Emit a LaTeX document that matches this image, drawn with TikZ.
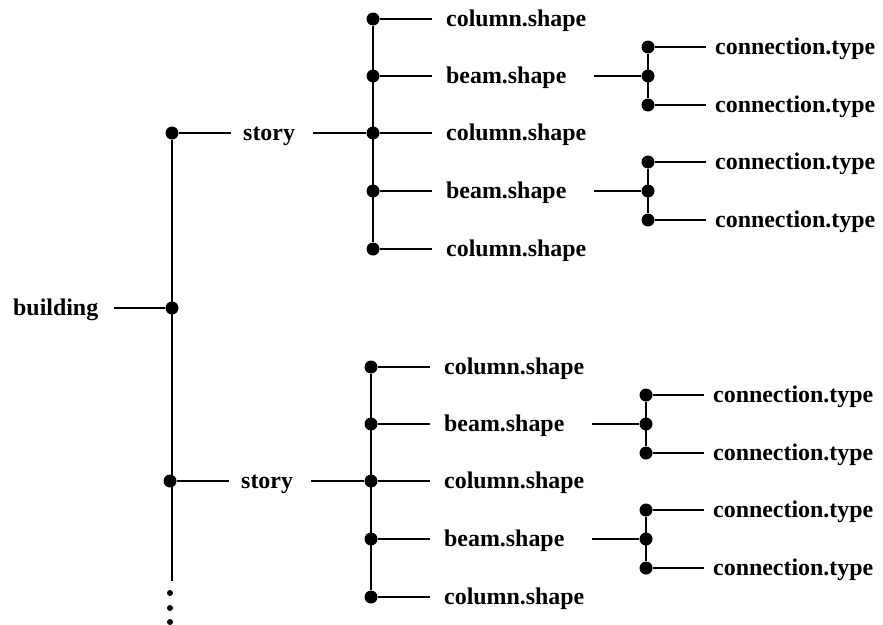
\documentclass[tikz,border=0pt]{standalone}
\usepackage{fontspec}
\setmainfont{Liberation Serif}
\tikzset{
  dot/.style={circle,fill=black,draw=none,inner sep=0pt,minimum size=13pt},
  smalldot/.style={circle,fill=black,draw=none,inner sep=0pt,minimum size=6pt},
  lbl/.style={font=\bfseries\fontsize{23.9}{28}\selectfont,inner sep=0pt,anchor=base west},
  wire/.style={line width=2pt},
}
\begin{document}
\begin{tikzpicture}[x=1pt,y=-1pt]
\useasboundingbox (0,0) rectangle (883,624);

% root of the tree
\node[lbl] (building) at (13,315) {building};
\node[dot] (root) at (172,308) {};
\draw[wire,shorten <=16pt] (building.east |- root) -- (root);

% trunk and the continuation dots
\coordinate (trunkend) at (172,581);
\node[smalldot] (more1) at (170,593) {};
\node[smalldot] (more2) at (170,608) {};
\node[smalldot] (more3) at (170,622) {};

% one story subtree per entry: name / vertical offset / horizontal offset
\foreach \s/\oy/\ox in {a/0/0,b/348/-2}{
  \begin{scope}[shift={(\ox,\oy)}]
    \node[dot] (\s-s) at (172,133) {};
    \node[lbl] (\s-story) at (243,140) {story};
    \draw[wire,shorten >=12pt] (\s-s) -- (\s-story.west |- \s-s);
    \foreach \i/\yy/\t in {1/19/column.shape,2/76/beam.shape,3/133/column.shape,4/191/beam.shape,5/249/column.shape}{
      \node[dot] (\s-\i) at (373,\yy) {};
      \node[lbl] (\s-t\i) at (446,\yy+7) {\t};
      \draw[wire,shorten >=14pt] (\s-\i) -- (\s-t\i.west |- \s-\i);
    }
    \draw[wire] (\s-1) -- (\s-5);
    \draw[wire,shorten <=18pt] (\s-story.east |- \s-3) -- (\s-3);
    \foreach \j/\yy in {2/76,4/191}{
      \node[dot] (\s-m\j) at (648,\yy) {};
      \node[dot] (\s-u\j) at (648,\yy-29) {};
      \node[dot] (\s-d\j) at (648,\yy+29) {};
      \draw[wire] (\s-u\j) -- (\s-d\j);
      \draw[wire,shorten <=27pt] (\s-t\j.east |- \s-m\j) -- (\s-m\j);
      \node[lbl] (\s-cu\j) at (715,\yy-22) {connection.type};
      \node[lbl] (\s-cd\j) at (715,\yy+36) {connection.type};
      \draw[wire,shorten >=9pt] (\s-u\j) -- (\s-cu\j.west |- \s-u\j);
      \draw[wire,shorten >=9pt] (\s-d\j) -- (\s-cd\j.west |- \s-d\j);
    }
  \end{scope}
}
\draw[wire] (a-s) -- (trunkend);
\end{tikzpicture}
\end{document}
